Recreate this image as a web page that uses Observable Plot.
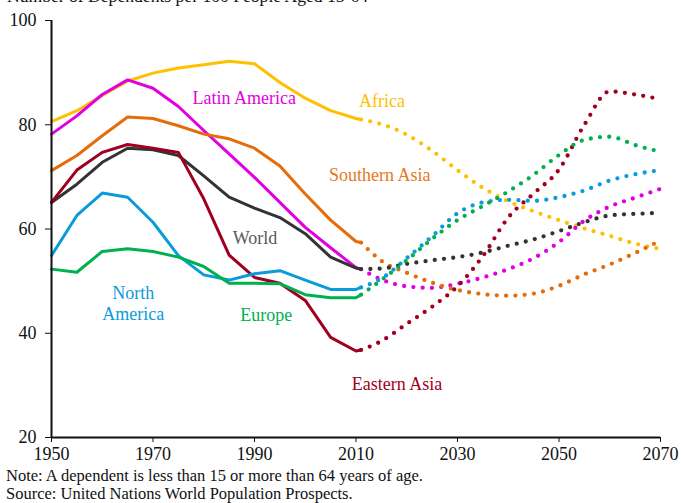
<!DOCTYPE html>
<html><head><meta charset="utf-8">
<script src="https://cdn.jsdelivr.net/npm/d3@7"></script>
<script src="https://cdn.jsdelivr.net/npm/@observablehq/plot@0.6"></script>
<style>
body{margin:0;background:#fff;font-family:"Liberation Serif","Times New Roman",serif;}
#wrap{position:relative;width:681px;height:503px;overflow:hidden;background:#fff;}
#title{position:absolute;left:7px;top:-12px;font-size:17.6px;line-height:17px;white-space:nowrap;color:#111;}
#chart{position:absolute;left:0;top:0;}
#notes{position:absolute;left:6px;top:467px;font-size:16.5px;line-height:18px;color:#111;white-space:nowrap;}
</style></head><body>
<div id="wrap">
<div id="title">Number of Dependents per 100 People Aged 15-64</div>
<div id="chart"></div>
<div id="notes"><div>Note: A dependent is less than 15 or more than 64 years of age.</div><div>Source: United Nations World Population Prospects.</div></div>
</div>
<script>
const seriesNames = ["Africa","Latin America","Southern Asia","World","Eastern Asia","North America","Europe"];
const seriesColors = ["#FFC000","#E100E1","#E46C0A","#333333","#A0001E","#0A9BDB","#00B050"];
const labelColors = ["#FFC000","#E100E1","#E87722","#595959","#A0001E","#0A9BDB","#00B050"];

const histYears = [1950,1955,1960,1965,1970,1975,1980,1985,1990,1995,2000,2005,2010,2011];
const africaHist = [80.6,82.7,85.6,88.4,89.9,90.9,91.5,92.2,91.7,88.1,85.1,82.7,81.2,81.0];
const latinHist = [78.2,81.7,85.8,88.6,87.0,83.5,78.9,74.4,69.9,65.1,60.3,56.4,52.6,52.3];
const southAsiaHist = [71.2,74.1,77.9,81.5,81.2,79.8,78.2,77.3,75.5,72.1,66.7,61.7,57.6,57.4];
const worldHist = [65.1,68.6,72.8,75.5,75.2,74.1,70.2,66.1,64.0,62.2,59.1,54.6,52.5,52.3];
const eastAsiaHist = [65.1,71.3,74.7,76.2,75.5,74.7,65.8,55.0,50.7,49.6,46.3,39.2,36.6,36.8];
const northAmHist = [54.9,62.6,66.9,66.1,61.3,54.9,51.2,50.2,51.4,52.0,50.2,48.4,48.4,48.8];
const europeHist = [52.3,51.7,55.7,56.2,55.7,54.6,52.8,49.6,49.6,49.5,47.4,46.8,46.8,47.4];

const projYears = [2011,2015,2020,2025,2030,2035,2040,2045,2050,2055,2060,2065,2070];
const africaProj = [81.0,80.1,78.1,75.0,71.3,67.9,65.3,63.4,61.7,60.1,58.7,57.2,56.2];
const latinProj = [52.3,50.3,49.0,48.7,49.5,50.7,52.3,54.4,57.5,61.6,64.3,66.0,67.7];
const southAsiaProj = [57.4,53.9,51.6,49.7,48.3,47.5,47.2,47.6,49.1,51.3,53.2,55.4,57.8];
const worldProj = [52.3,52.4,53.3,54.0,54.6,55.5,56.8,58.0,59.6,61.3,62.6,62.9,63.1];
const eastAsiaProj = [36.8,38.5,41.8,45.1,49.0,54.8,62.2,66.8,71.4,80.0,86.4,85.8,84.9];
const northAmProj = [48.8,50.5,54.4,58.6,63.0,65.1,65.6,65.4,66.1,67.4,69.3,70.5,71.3];
const europeProj = [47.4,50.2,54.0,58.1,61.7,64.4,67.2,70.4,74.2,77.1,77.7,76.1,74.8];

const xTicks = [1950,1970,1990,2010,2030,2050,2070];
const yTicks = [20,40,60,80,100];

const labelTexts = ["Africa","Latin America","Southern Asia","World","Eastern Asia","North\nAmerica","Europe"];
const labelX = [2015.1,1988.0,2014.7,1990.1,2018.1,1966.1,1992.3];
const labelY = [84.6,85.2,70.4,58.4,30.4,45.8,43.6];

const histAll = [africaHist,latinHist,southAsiaHist,worldHist,eastAsiaHist,northAmHist,europeHist];
const projAll = [africaProj,latinProj,southAsiaProj,worldProj,eastAsiaProj,northAmProj,europeProj];

const hist = [], proj = [];
seriesNames.forEach((s,i)=>{
  histYears.forEach((yr,j)=>hist.push({series:s,color:seriesColors[i],year:yr,value:histAll[i][j]}));
  projYears.forEach((yr,j)=>proj.push({series:s,color:seriesColors[i],year:yr,value:projAll[i][j]}));
});
const labels = labelTexts.map((t,i)=>({text:t,x:labelX[i],y:labelY[i],color:labelColors[i]}));

const chart = Plot.plot({
  width:681, height:465,
  marginLeft:51, marginRight:21, marginTop:20, marginBottom:28,
  style:{fontFamily:"'Liberation Serif','Times New Roman',serif", fontSize:"18px", color:"#111", background:"transparent", overflow:"visible"},
  x:{domain:[1950,2070]},
  y:{domain:[20,100]},
  marks:[
    Plot.line(proj,{x:"year",y:"value",z:"series",stroke:"color",strokeWidth:4.3,strokeDasharray:"0 9.3",strokeLinecap:"round",curve:"monotone-x"}),
    Plot.line(hist,{x:"year",y:"value",z:"series",stroke:"color",strokeWidth:3,strokeLinecap:"round",strokeLinejoin:"round"}),
    Plot.text(labels,{x:"x",y:"y",text:"text",fill:"color",fontSize:18,lineHeight:1.13}),
    Plot.ruleY([20],{stroke:"#111",strokeWidth:2}),
    Plot.ruleX([1950],{stroke:"#111",strokeWidth:2}),
    Plot.axisX({ticks:xTicks,tickFormat:"d",tickSize:5,tickPadding:5,label:null,fontSize:18}),
    Plot.axisY({ticks:yTicks,tickSize:6,tickPadding:9,label:null,fontSize:18})
  ]
});
document.getElementById("chart").appendChild(chart);
</script>
</body></html>
